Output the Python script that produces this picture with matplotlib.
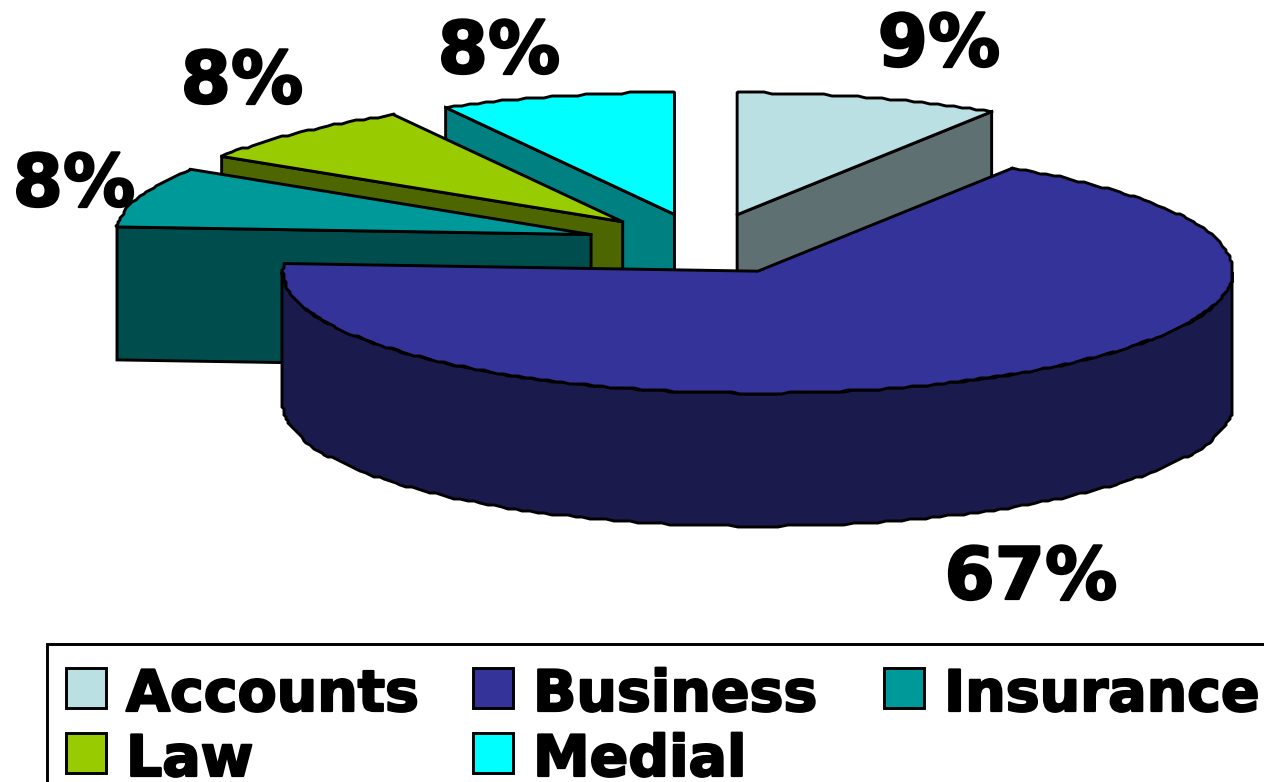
"""Exploded 3D-look pie of course shares, drawn as flat polygons in pixel space."""

import numpy as np
import matplotlib

matplotlib.use("Agg")
import matplotlib.pyplot as plt
import matplotlib.patheffects as pe
from matplotlib.patches import Polygon, Rectangle

categories = ["Accounts", "Business", "Insurance", "Law", "Medial"]
shares = [9, 67, 8, 8, 8]
colors = ["#BBE0E3", "#333399", "#009999", "#99CC00", "#00FFFF"]
wall_colors = ["#5E7072", "#1A1A4D", "#004D4D", "#4D6600", "#008080"]

# pie geometry, in image pixels
CX, CY = 704, 244
RX, RY = 475, 122
DEPTH = 133
EXPLODE = 0.25
LW = 2.1
JAG = 2  # the outline of the original is visibly stepped

# Verdana Bold is heavier than DejaVu Sans Bold, a thin stroke makes up for it
HEAVY = [pe.withStroke(linewidth=1.6, foreground="black")]


def arc(cx, cy, start, end):
    t = np.radians(np.linspace(start, end, max(int(abs(end - start)), 2)))
    xs = cx + RX * np.cos(t)
    ys = cy - RY * np.sin(t)
    return np.round(xs / JAG) * JAG, np.round(ys / JAG) * JAG


def cut_face(ax, cx, cy, x, y, wall_color):
    ax.add_patch(Polygon(
        [(cx, cy), (x, y), (x, y + DEPTH), (cx, cy + DEPTH)],
        facecolor=wall_color, edgecolor="black", linewidth=LW,
    ))


def draw_slice(ax, start, end, color, wall_color):
    mid = np.radians((start + end) / 2)
    cx = CX + EXPLODE * RX * np.cos(mid)
    cy = CY - EXPLODE * RY * np.sin(mid)
    x0, y0 = cx + RX * np.cos(np.radians(start)), cy - RY * np.sin(np.radians(start))
    x1, y1 = cx + RX * np.cos(np.radians(end)), cy - RY * np.sin(np.radians(end))

    # a cut face shows only when the slice lies above it on screen
    if np.cos(np.radians(start)) < -1e-6:
        cut_face(ax, cx, cy, x0, y0, wall_color)
    if np.cos(np.radians(end)) > 1e-6:
        cut_face(ax, cx, cy, x1, y1, wall_color)

    # curved outer wall, lower half of the ellipse only
    low, high = max(end, -180), min(start, 0)
    if low < high:
        xs, ys = arc(cx, cy, low, high)
        outline = list(zip(xs, ys)) + list(zip(xs[::-1], ys[::-1] + DEPTH))
        ax.add_patch(Polygon(
            outline, facecolor=wall_color, edgecolor="black", linewidth=LW,
        ))

    xs, ys = arc(cx, cy, start, end)
    top = [(cx, cy), (x0, y0)] + list(zip(xs, ys)) + [(x1, y1)]
    ax.add_patch(Polygon(
        top, facecolor=color, edgecolor="black", linewidth=LW, joinstyle="round",
    ))


def draw_legend(ax):
    ax.add_patch(Rectangle(
        (47, 644), 1300, 200, facecolor="white", edgecolor="black", linewidth=LW,
    ))
    col_x = [66, 473, 884]
    row_y = [668, 733]
    for i, name in enumerate(categories):
        row, col = divmod(i, 3)
        ax.add_patch(Rectangle(
            (col_x[col], row_y[row]), 40, 40,
            facecolor=colors[i], edgecolor="black", linewidth=LW,
        ))
        ax.text(
            col_x[col] + 60, row_y[row] + 43, name,
            fontsize=41, fontweight="bold", ha="left", va="baseline",
            path_effects=HEAVY,
        )


def main():
    fig = plt.figure(figsize=(12.64, 7.82), dpi=100)
    ax = fig.add_axes([0, 0, 1, 1])
    ax.set_xlim(0, 1264)
    ax.set_ylim(782, 0)
    ax.set_axis_off()

    angles = 90 - np.cumsum([0] + shares) * 3.6
    # back slices first, Business last so it covers their walls
    for i in [0, 4, 3, 2, 1]:
        draw_slice(ax, angles[i], angles[i + 1], colors[i], wall_colors[i])

    label_xy = [(939, 66), (1031, 599), (74, 206), (242, 103), (499, 73)]
    for share, (x, y) in zip(shares, label_xy):
        ax.text(x, y, f"{share}%", fontsize=52, fontweight="bold",
                ha="center", va="baseline", path_effects=HEAVY)

    draw_legend(ax)
    fig.savefig("out.png", dpi=100)


if __name__ == "__main__":
    main()
